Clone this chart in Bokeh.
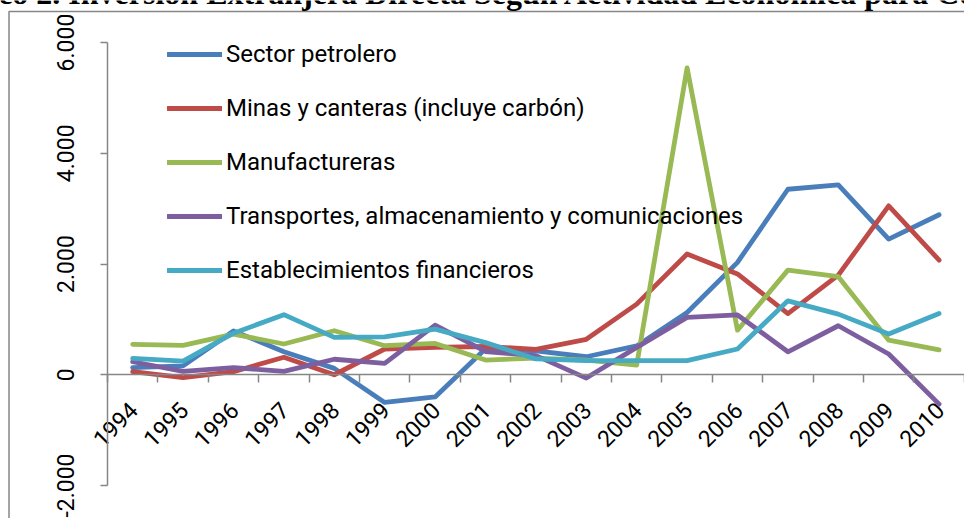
import math
from bokeh.plotting import figure
from bokeh.models import FixedTicker, Range1d, LinearAxis, Legend, LegendItem, Label
from bokeh.embed import file_html
from bokeh.resources import INLINE
from bokeh.core.properties import value

# ---------------- data ----------------
years = list(range(1994, 2011))
year_labels = [str(y) for y in years]

sector_petrolero = [130, 160, 790, 415, 115, -500, -400, 470, 430, 325, 520, 1125, 2030, 3350, 3430, 2450, 2890]
minas_canteras = [55, -50, 55, 315, 0, 465, 495, 510, 460, 640, 1275, 2180, 1820, 1105, 1800, 3050, 2070]
manufactureras = [550, 530, 735, 555, 795, 525, 565, 265, 300, 265, 175, 5540, 805, 1890, 1770, 625, 450]
transportes = [235, 60, 130, 60, 280, 205, 895, 420, 345, -60, 495, 1035, 1080, 415, 885, 375, -530]
financieros = [295, 245, 750, 1085, 675, 685, 825, 580, 285, 255, 255, 255, 465, 1335, 1095, 735, 1105]

series_names = [
    "Sector petrolero",
    "Minas y canteras (incluye carbón)",
    "Manufactureras",
    "Transportes, almacenamiento y comunicaciones",
    "Establecimientos financieros",
]
series_values = [sector_petrolero, minas_canteras, manufactureras, transportes, financieros]
series_colors = ["#4A7EBB", "#BE4B48", "#98B954", "#7D5FA0", "#46AAC5"]

y_ticks = [-2000, 0, 2000, 4000, 6000]
y_tick_labels = ["-2.000", "0", "2.000", "4.000", "6.000"]
x_boundaries = [y - 0.5 for y in years] + [years[-1] + 0.5]

title_text = "Gráfico 2. Inversión Extranjera Directa Según Actividad Económica para Colombia"

FONT = "Roboto"
AXIS_COLOR = "#868686"

# ---------------- layout geometry (pixels) ----------------
W, H = 964, 518
PLOT_LEFT, PLOT_TOP, PLOT_BOTTOM = 107, 42, 485
CAT_W = 50.4
Y_MIN, Y_MAX = y_ticks[0], y_ticks[-1]
units_per_px = (Y_MAX - Y_MIN) / (PLOT_BOTTOM - PLOT_TOP)
x_start = years[0] - 0.5 - PLOT_LEFT / CAT_W

p = figure(
    width=W, height=H,
    output_backend="svg", toolbar_location=None,
    x_range=Range1d(x_start, x_start + W / CAT_W),
    y_range=Range1d(Y_MIN - (H - PLOT_BOTTOM) * units_per_px, Y_MAX + PLOT_TOP * units_per_px),
    min_border=0,
    x_axis_location=None, y_axis_location=None,
)
p.grid.visible = False
p.outline_line_color = None
p.background_fill_color = "white"
p.border_fill_color = "white"

# y axis (value axis), fixed at the left edge of the category area
yaxis = LinearAxis(ticker=FixedTicker(ticks=y_ticks), fixed_location=years[0] - 0.5,
                   bounds=(Y_MIN, Y_MAX))
yaxis.major_label_overrides = {t: l for t, l in zip(y_ticks, y_tick_labels)}
yaxis.major_label_orientation = "vertical"
yaxis.major_label_text_font = FONT
yaxis.major_label_text_font_size = "23px"
yaxis.major_label_text_color = "black"
yaxis.major_label_standoff = 27
yaxis.axis_line_color = AXIS_COLOR
yaxis.axis_line_width = 1.5
yaxis.major_tick_line_color = AXIS_COLOR
yaxis.major_tick_line_width = 1.5
yaxis.major_tick_in = 0
yaxis.major_tick_out = 7
yaxis.minor_tick_line_color = None
p.add_layout(yaxis, "left")

# x axis (category axis crossing at zero)
xaxis = LinearAxis(ticker=FixedTicker(ticks=years, minor_ticks=x_boundaries), fixed_location=0,
                   bounds=(x_boundaries[0], x_boundaries[-1]))
xaxis.major_label_text_font_size = "0px"
xaxis.major_label_text_color = None
xaxis.major_tick_line_color = None
xaxis.minor_tick_line_color = AXIS_COLOR
xaxis.minor_tick_line_width = 1.5
xaxis.minor_tick_in = 0
xaxis.minor_tick_out = 8
xaxis.axis_line_color = AXIS_COLOR
xaxis.axis_line_width = 1.5
xaxis.major_label_standoff = 0
p.add_layout(xaxis, "below")

# x tick labels (rotated)
p.text(x=years, y=0, text=year_labels, angle=math.pi / 4,
       text_align="center", text_baseline="middle",
       x_offset=-17.5, y_offset=49.5,
       text_font=value(FONT), text_font_size="23px", text_color="black")

# series
renderers = []
for vals, col in zip(series_values, series_colors):
    r = p.line(years, vals, line_color=col, line_width=4.8,
               line_join="round", line_cap="round")
    renderers.append(r)

legend = Legend(
    items=[LegendItem(label=n, renderers=[r]) for n, r in zip(series_names, renderers)],
    location=(167, 234), orientation="vertical",
    glyph_width=55, glyph_height=28, label_height=28, spacing=26,
    padding=0, margin=0, label_standoff=4,
    label_text_font=FONT, label_text_font_size="24px", label_text_color="black",
    background_fill_alpha=0, border_line_color=None,
)
p.add_layout(legend, "center")

# outer chart border (drawn as a padded, empty label box)
border = Label(x=8.5, y=11, x_units="canvas", y_units="canvas", text=" ",
               text_font_size="1px", text_align="left", text_baseline="top",
               padding=dict(left=0, right=1200, top=0, bottom=800),
               border_line_color=AXIS_COLOR, border_line_width=1.5,
               background_fill_color=None)
p.add_layout(border)

# title (cut off at the top as in the reference)
title = Label(x=-77, y=-8, x_units="canvas", y_units="canvas",
              text=title_text, text_font="Liberation Serif", text_font_style="bold",
              text_font_size="32px", text_color="black",
              text_align="left", text_baseline="alphabetic")
p.add_layout(title)

open("out.html", "w").write(file_html(p, INLINE))
